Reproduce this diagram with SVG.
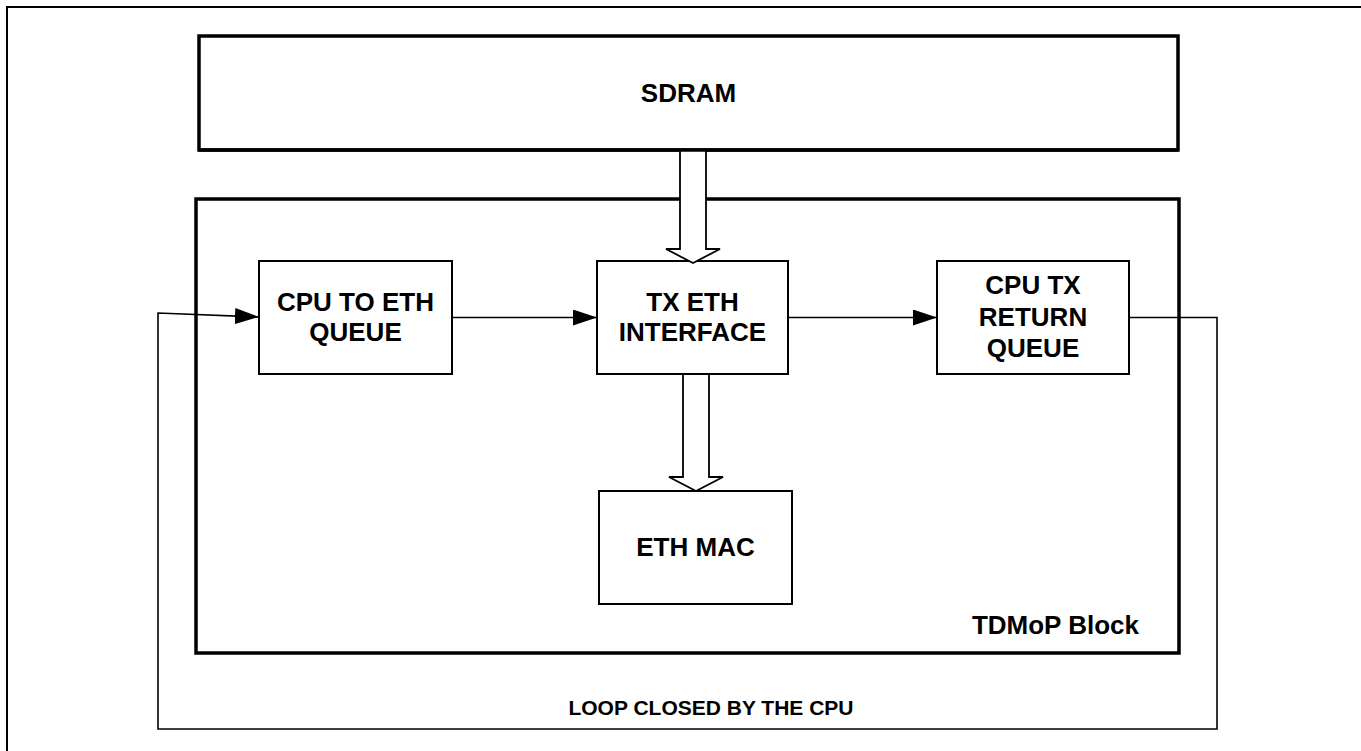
<svg xmlns="http://www.w3.org/2000/svg" width="1361" height="751" viewBox="0 0 1361 751">
<style>
.box{fill:#fff;stroke:#000;stroke-width:2}
.big{fill:none;stroke:#000;stroke-width:3.5}
.lbl{font-family:"Liberation Sans",Arial,sans-serif;font-weight:bold;font-size:26px;fill:#000;text-anchor:middle;dominant-baseline:central}
.wire{fill:none;stroke:#000;stroke-width:1.6}
.blk{fill:#fff;stroke:#000;stroke-width:1.8}
</style>
<defs>
<marker id="ah" markerUnits="userSpaceOnUse" markerWidth="24" markerHeight="16" refX="24" refY="8" orient="auto"><path d="M0,0 L24,8 L0,16 Z" fill="#000"/></marker>
</defs>
<rect x="0" y="0" width="1361" height="751" fill="#fff"/>
<rect x="7" y="7" width="1360" height="750" fill="none" stroke="#000" stroke-width="2"/>
<g id="sdram"><rect class="big" x="199" y="36" width="979" height="114" fill="#fff"/><text class="lbl" x="688.5" y="93">SDRAM</text></g>
<g id="tdmop"><rect class="big" x="196" y="199" width="983" height="454"/><text class="lbl" x="1139" y="625" style="text-anchor:end">TDMoP Block</text></g>
<g id="cpu2eth"><rect class="box" x="259" y="261" width="193" height="113"/><text class="lbl" x="355.5" y="302">CPU TO ETH</text><text class="lbl" x="355.5" y="332">QUEUE</text></g>
<g id="txeth"><rect class="box" x="597" y="261" width="191" height="113"/><text class="lbl" x="692.5" y="302">TX ETH</text><text class="lbl" x="692.5" y="332">INTERFACE</text></g>
<g id="cputxret"><rect class="box" x="937" y="261" width="192" height="113"/><text class="lbl" x="1033" y="285">CPU TX</text><text class="lbl" x="1033" y="317">RETURN</text><text class="lbl" x="1033" y="348">QUEUE</text></g>
<g id="ethmac"><rect class="box" x="599" y="491" width="193" height="113"/><text class="lbl" x="695.5" y="547">ETH MAC</text></g>
<g id="connectors">
<polygon class="blk" points="680,150 706,150 706,249 720,249 693,263 666,249 680,249"/>
<line x1="199" y1="150" x2="1178" y2="150" stroke="#000" stroke-width="3.5"/>
<polygon class="blk" points="683,374 709,374 709,477 723,477 696,491 669,477 683,477"/>
<line class="wire" x1="452" y1="317.5" x2="597" y2="317.5" marker-end="url(#ah)"/>
<line class="wire" x1="788" y1="317.5" x2="937" y2="317.5" marker-end="url(#ah)"/>
<polyline class="wire" points="1129,317.5 1217,317.5 1217,729 158,729 158,313 259,317" marker-end="url(#ah)"/>
<text class="lbl" x="711" y="707" style="font-size:21px">LOOP CLOSED BY THE CPU</text>
</g>
</svg>
